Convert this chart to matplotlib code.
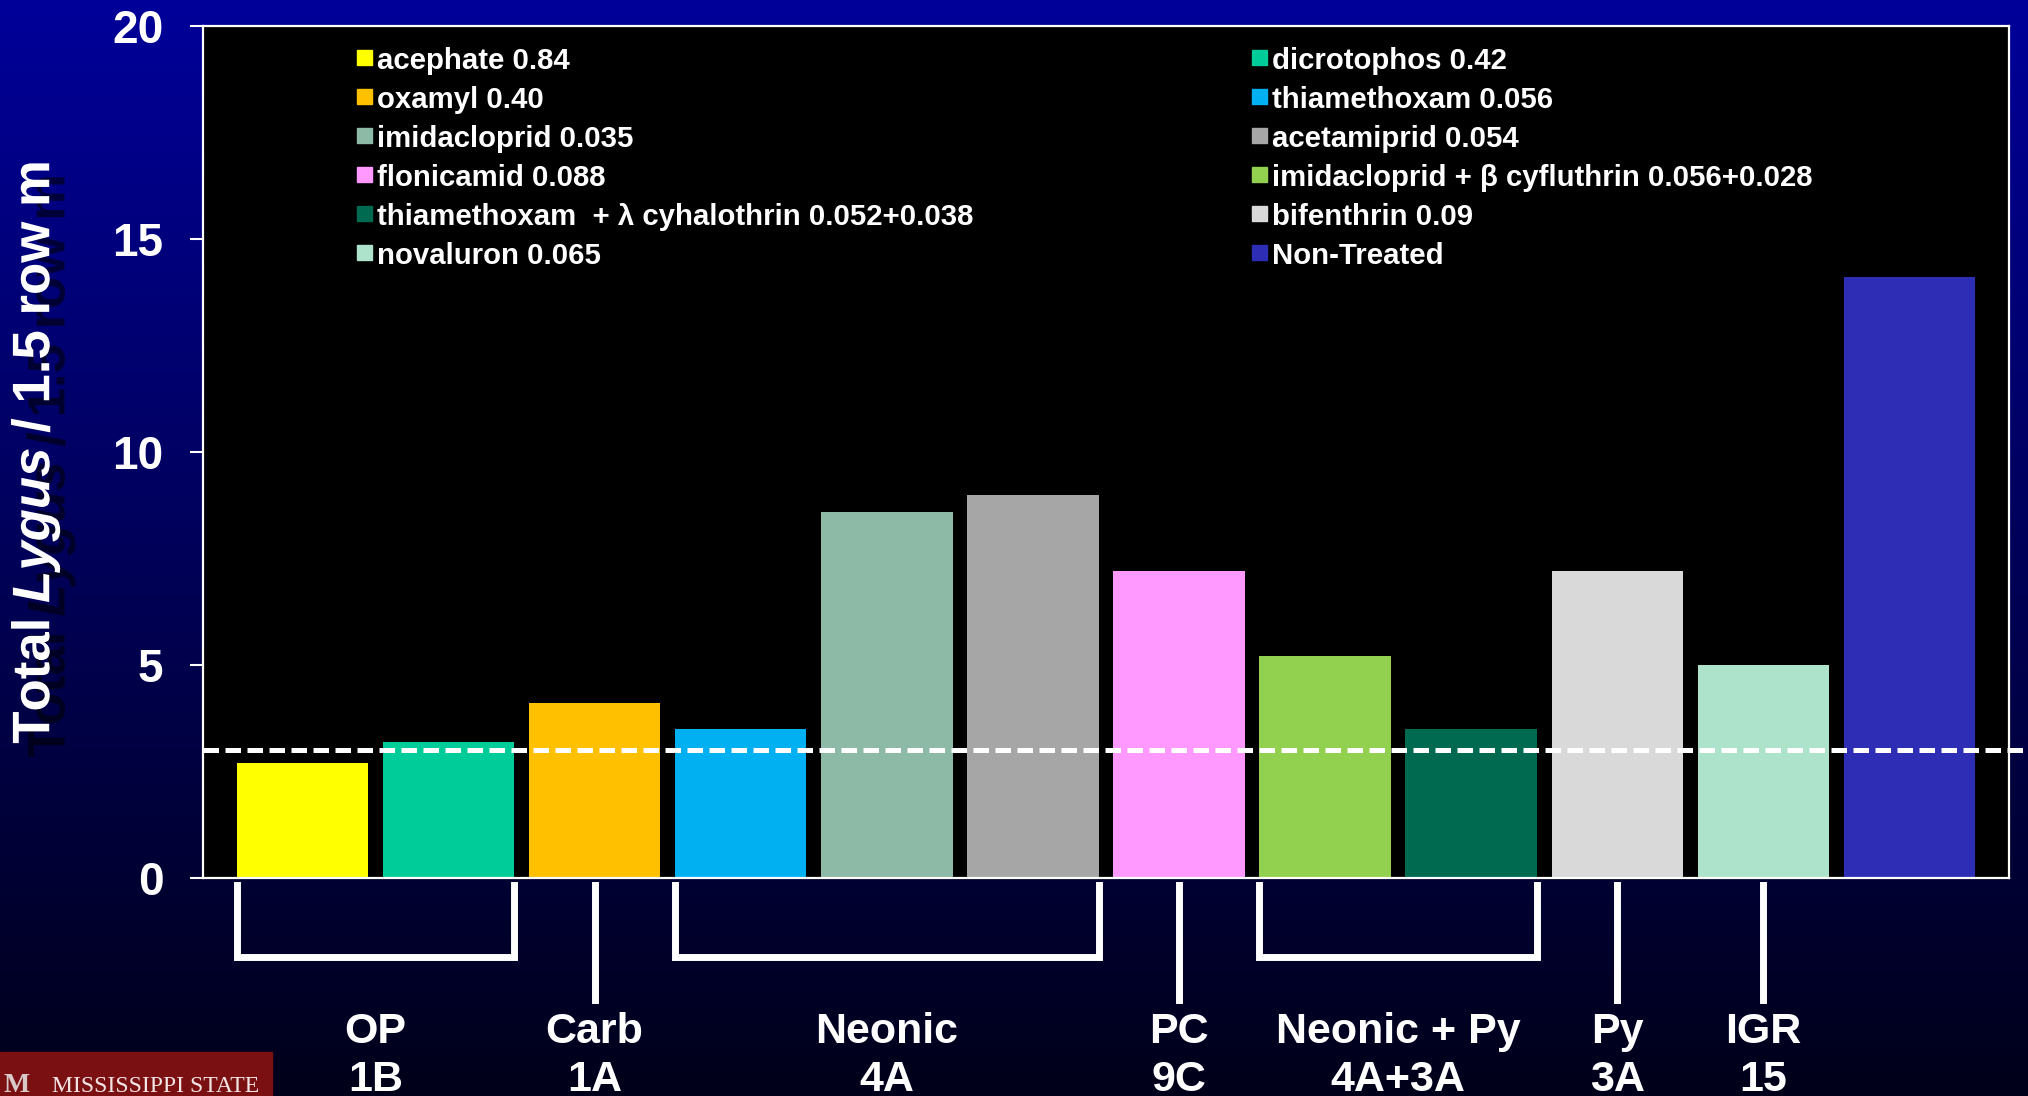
import numpy as np
import matplotlib.pyplot as plt
from matplotlib.patches import Rectangle
import matplotlib.patheffects as pe

# treatments in bar order (legend reads row by row: even -> left column, odd -> right column)
treatments = ['acephate 0.84', 'dicrotophos 0.42', 'oxamyl 0.40', 'thiamethoxam 0.056',
              'imidacloprid 0.035', 'acetamiprid 0.054', 'flonicamid 0.088',
              'imidacloprid + \u03b2 cyfluthrin 0.056+0.028',
              'thiamethoxam  + \u03bb cyhalothrin 0.052+0.038', 'bifenthrin 0.09',
              'novaluron 0.065', 'Non-Treated']
lygus = [2.7, 3.2, 4.1, 3.5, 8.6, 9.0, 7.2, 5.2, 3.5, 7.2, 5.0, 14.1]
colors = ['#FFFF00', '#00CC99', '#FFC000', '#00B0F0', '#8DBAA6', '#A6A6A6', '#FF99FF',
          '#92D050', '#006A50', '#D9D9D9', '#ADE3CB', '#2E2DB6']
threshold = 3.0

# insecticide classes below the axis
group_names = ['OP', 'Carb', 'Neonic', 'PC', 'Neonic + Py', 'Py', 'IGR']
group_codes = ['1B', '1A', '4A', '9C', '4A+3A', '3A', '15']
group_first = [0, 2, 3, 6, 7, 9, 10]
group_last = [1, 2, 5, 6, 8, 9, 10]

yticks = [0, 5, 10, 15, 20]

plt.rcParams['font.family'] = 'Liberation Sans'
plt.rcParams['font.weight'] = 'bold'
plt.rcParams['mathtext.fontset'] = 'custom'
plt.rcParams['mathtext.it'] = 'Liberation Sans:italic:bold'
plt.rcParams['mathtext.rm'] = 'Liberation Sans:bold'

fig = plt.figure(figsize=(20.28, 10.96), dpi=100)

# slide background gradient
bg = fig.add_axes([0, 0, 1, 1], zorder=-10)
t = np.linspace(0, 1, 256)[:, None]
top = np.array([0, 0, 153]) / 255
bot = np.array([0, 0, 26]) / 255
grad = (top * (1 - t) + bot * t)[:, None, :]
bg.imshow(grad, aspect='auto', extent=[0, 1, 0, 1])
bg.axis('off')

ax = fig.add_axes([0.1001, 0.1989, 0.8905, 0.7774])
ax.set_facecolor('black')
x = np.arange(len(lygus))
ax.bar(x, lygus, width=0.9, color=colors, zorder=2)
ax.set_xlim(-0.68, len(lygus) - 0.32)
ax.set_ylim(0, 20)
ax.set_yticks(yticks)
ax.set_xticks([])
ax.tick_params(axis='y', colors='white', length=9.4, width=1.5, pad=19, labelsize=33)
for s in ax.spines.values():
    s.set_color('white')
    s.set_linewidth(1.6)

# action threshold
ax.plot([0, 1.02], [threshold, threshold], transform=ax.get_yaxis_transform(),
        color='white', lw=3.6, linestyle=(0, (3.1, 1.3)), clip_on=False, zorder=3)

# legend, drawn as two columns of colored squares
for i, (lab, col) in enumerate(zip(treatments, colors)):
    sx = [0.0853, 0.5806][i % 2]
    cy = 0.9627 - 0.0458 * (i // 2)
    ax.add_patch(Rectangle((sx, cy - 0.0088), 0.0083, 0.0176, transform=ax.transAxes,
                           color=col, zorder=4))
    ax.text(sx + 0.0112, cy - 0.0128, lab, transform=ax.transAxes, color='white',
            fontsize=21.2, va='baseline', ha='left', zorder=4)

# class brackets and labels
xt = ax.get_xaxis_transform()
for name, code, f, l in zip(group_names, group_codes, group_first, group_last):
    if f != l:
        ax.plot([f - 0.45, f - 0.45, l + 0.45, l + 0.45], [-0.008, -0.0927, -0.0927, -0.008],
                transform=xt, color='white', lw=5, clip_on=False, solid_joinstyle='miter')
    else:
        ax.plot([f, f], [-0.008, -0.143], transform=xt, color='white', lw=5, clip_on=False)
    cx = (f + l) / 2
    ax.text(cx, -0.1933, name, transform=xt, color='white', fontsize=31,
            ha='center', va='baseline')
    ax.text(cx, -0.2505, code, transform=xt, color='white', fontsize=31,
            ha='center', va='baseline')

# y label with drop shadow
fig.text(0.0175, 0.587, 'Total $\\mathit{Lygus}$ / 1.5 row m', rotation=90,
         color='white', fontsize=38, ha='center', va='center',
         path_effects=[pe.withSimplePatchShadow(offset=(11, -10), shadow_rgbFace='black',
                                                alpha=0.55)])

# university logo strip
fig.patches.append(Rectangle((0, 0), 272 / 2028, 44 / 1096, transform=fig.transFigure,
                             color='#7A1012', zorder=5))
fig.text(52 / 2028, 0.004, 'MISSISSIPPI STATE', family='Liberation Serif', fontweight='normal',
         color='#F2E4E4', fontsize=17, ha='left', va='baseline', zorder=6)
fig.text(4 / 2028, 0.004, 'M', family='Liberation Serif', color='#D8C8C8', fontsize=20,
         ha='left', va='baseline', zorder=6)

fig.savefig('out.png', dpi=100)
